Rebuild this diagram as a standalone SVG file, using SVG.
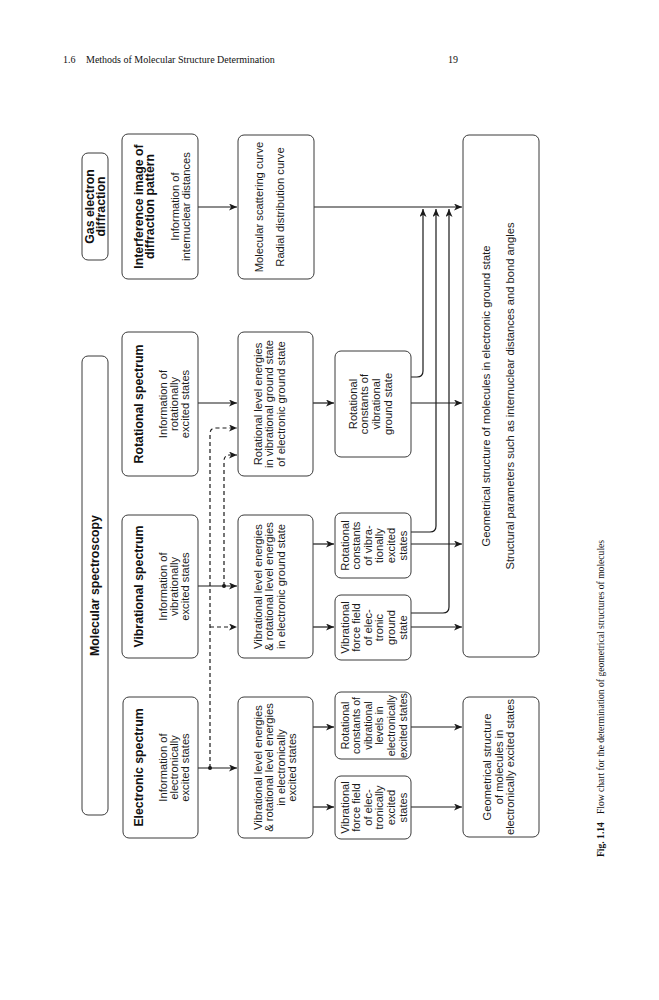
<svg xmlns="http://www.w3.org/2000/svg" width="659" height="1000" viewBox="0 0 659 1000">
<style>
.box{fill:#fff;stroke:#3a3a3a;stroke-width:1}
.t{font-family:"Liberation Sans",Arial,sans-serif;font-size:11.2px;fill:#1a1a1a;text-anchor:middle}
.sm{font-size:10.6px}
.b{font-family:"Liberation Sans",Arial,sans-serif;font-size:12.3px;font-weight:bold;fill:#111;text-anchor:middle}
.s{font-family:"Liberation Serif","Times New Roman",serif;font-size:10px;fill:#111}
.ln{fill:none;stroke:#1a1a1a;stroke-width:1.2}
.ds{fill:none;stroke:#1a1a1a;stroke-width:1.2;stroke-dasharray:4 3}
</style>
<defs>
<marker id="ah" markerUnits="userSpaceOnUse" markerWidth="9" markerHeight="7" refX="8" refY="3.5" orient="auto">
<path d="M0,0 L8,3.5 L0,7 L2.2,3.5 z" fill="#1a1a1a"/>
</marker>
</defs>
<rect width="659" height="1000" fill="#fff"/>
<g id="header">
<text class="s" x="63" y="62.5">1.6</text>
<text class="s" x="86" y="62.5">Methods of Molecular Structure Determination</text>
<text class="s" x="448" y="62.5">19</text>
</g>
<g id="connectors">
<path class="ln" d="M198,207 H237" marker-end="url(#ah)"/>
<path class="ln" d="M314,207 H462" marker-end="url(#ah)"/>
<path class="ln" d="M411,377 H417 Q423,377 423,371 V209" marker-end="url(#ah)"/>
<path class="ln" d="M411,532 H430 Q436,532 436,526 V209" marker-end="url(#ah)"/>
<path class="ln" d="M411,613 H443 Q449,613 449,607 V209" marker-end="url(#ah)"/>
<path class="ln" d="M198,403 H237" marker-end="url(#ah)"/>
<path class="ln" d="M313,403 H334" marker-end="url(#ah)"/>
<path class="ln" d="M411,403 H462" marker-end="url(#ah)"/>
<path class="ln" d="M198,586 H237" marker-end="url(#ah)"/>
<path class="ds" d="M224,586 V461 Q224,455 230,455 H237" marker-end="url(#ah)"/>
<path class="ds" d="M210,768 V434 Q210,428 216,428 H237" marker-end="url(#ah)"/>
<path class="ds" d="M210,627 H237" marker-end="url(#ah)"/>
<circle cx="224" cy="586" r="2" fill="#1a1a1a"/>
<circle cx="210" cy="768" r="2" fill="#1a1a1a"/>
<path class="ln" d="M313,544 H334" marker-end="url(#ah)"/>
<path class="ln" d="M313,627 H334" marker-end="url(#ah)"/>
<path class="ln" d="M411,544 H462" marker-end="url(#ah)"/>
<path class="ln" d="M411,627 H462" marker-end="url(#ah)"/>
<path class="ln" d="M198,768 H237" marker-end="url(#ah)"/>
<path class="ln" d="M313,727 H334" marker-end="url(#ah)"/>
<path class="ln" d="M313,807 H334" marker-end="url(#ah)"/>
<path class="ln" d="M411,727 H462" marker-end="url(#ah)"/>
<path class="ln" d="M411,807 H462" marker-end="url(#ah)"/>
</g>
<g id="gas">
<rect class="box" x="82" y="153" width="26" height="107" rx="6"/>
<text class="b" transform="translate(93.5,206.5) rotate(-90)">Gas electron</text>
<text class="b" transform="translate(105.3,206.5) rotate(-90)">diffraction</text>
</g>
<g id="molspec">
<rect class="box" x="82" y="356" width="26" height="459" rx="6"/>
<text class="b" transform="translate(98.5,585.5) rotate(-90)">Molecular spectroscopy</text>
</g>
<g id="interference">
<rect class="box" x="122" y="134" width="76" height="145" rx="6"/>
<text class="b" transform="translate(142.7,206.5) rotate(-90)">Interference image of</text>
<text class="b" transform="translate(154,206.5) rotate(-90)">diffraction pattern</text>
<text class="t" transform="translate(179,206.5) rotate(-90)">Information of</text>
<text class="t" transform="translate(190,206.5) rotate(-90)">internuclear distances</text>
</g>
<g id="rotspec">
<rect class="box" x="122" y="332" width="76" height="144" rx="6"/>
<text class="b" transform="translate(142.7,404) rotate(-90)">Rotational spectrum</text>
<text class="t" transform="translate(167,404) rotate(-90)">Information of</text>
<text class="t" transform="translate(178,404) rotate(-90)">rotationally</text>
<text class="t" transform="translate(189,404) rotate(-90)">excited states</text>
</g>
<g id="vibspec">
<rect class="box" x="122" y="515" width="76" height="143" rx="6"/>
<text class="b" transform="translate(142.7,586.5) rotate(-90)">Vibrational spectrum</text>
<text class="t" transform="translate(167,586.5) rotate(-90)">Information of</text>
<text class="t" transform="translate(178,586.5) rotate(-90)">vibrationally</text>
<text class="t" transform="translate(189,586.5) rotate(-90)">excited states</text>
</g>
<g id="elecspec">
<rect class="box" x="123" y="697" width="75" height="141" rx="6"/>
<text class="b" transform="translate(142.7,767.5) rotate(-90)">Electronic spectrum</text>
<text class="t" transform="translate(167,767.5) rotate(-90)">Information of</text>
<text class="t" transform="translate(178,767.5) rotate(-90)">electronically</text>
<text class="t" transform="translate(189,767.5) rotate(-90)">excited states</text>
</g>
<g id="molscatter">
<rect class="box" x="238" y="135" width="76" height="144" rx="6"/>
<text class="t" transform="translate(263,207) rotate(-90)">Molecular scattering curve</text>
<text class="t" transform="translate(284,207) rotate(-90)">Radial distribution curve</text>
</g>
<g id="rotlevel">
<rect class="box" x="238" y="332" width="75" height="144" rx="6"/>
<text class="t" transform="translate(261.5,404) rotate(-90)">Rotational level energies</text>
<text class="t" transform="translate(273,404) rotate(-90)">in vibrational ground state</text>
<text class="t" transform="translate(284.5,404) rotate(-90)">of electronic ground state</text>
</g>
<g id="viblevel">
<rect class="box" x="238" y="515" width="75" height="143" rx="6"/>
<text class="t" transform="translate(261.5,586.5) rotate(-90)">Vibrational level energies</text>
<text class="t" transform="translate(273,586.5) rotate(-90)">&amp; rotational level energies</text>
<text class="t" transform="translate(284.5,586.5) rotate(-90)">in electronic ground state</text>
</g>
<g id="viblevelexc">
<rect class="box" x="238" y="697" width="75" height="141" rx="6"/>
<text class="t" transform="translate(261.5,767.5) rotate(-90)">Vibrational level energies</text>
<text class="t" transform="translate(273,767.5) rotate(-90)">&amp; rotational level energies</text>
<text class="t" transform="translate(284.5,767.5) rotate(-90)">in electronically</text>
<text class="t" transform="translate(296,767.5) rotate(-90)">excited states</text>
</g>
<g id="rotconstground">
<rect class="box" x="335" y="351" width="76" height="106" rx="6"/>
<text class="t" transform="translate(356.5,404) rotate(-90)">Rotational</text>
<text class="t" transform="translate(368.2,404) rotate(-90)">constants of</text>
<text class="t" transform="translate(379.9,404) rotate(-90)">vibrational</text>
<text class="t" transform="translate(391.6,404) rotate(-90)">ground state</text>
</g>
<g id="rotconstvibexc">
<rect class="box" x="335" y="513" width="76" height="65" rx="6"/>
<text class="t" transform="translate(348.5,545.5) rotate(-90)">Rotational</text>
<text class="t" transform="translate(360.1,545.5) rotate(-90)">constants</text>
<text class="t" transform="translate(371.7,545.5) rotate(-90)">of vibra-</text>
<text class="t" transform="translate(383.3,545.5) rotate(-90)">tionally</text>
<text class="t" transform="translate(394.9,545.5) rotate(-90)">excited</text>
<text class="t" transform="translate(406.5,545.5) rotate(-90)">states</text>
</g>
<g id="vibffground">
<rect class="box" x="335" y="595" width="76" height="65" rx="6"/>
<text class="t" transform="translate(348.5,627.5) rotate(-90)">Vibrational</text>
<text class="t" transform="translate(360.1,627.5) rotate(-90)">force field</text>
<text class="t" transform="translate(371.7,627.5) rotate(-90)">of elec-</text>
<text class="t" transform="translate(383.3,627.5) rotate(-90)">tronic</text>
<text class="t" transform="translate(394.9,627.5) rotate(-90)">ground</text>
<text class="t" transform="translate(406.5,627.5) rotate(-90)">state</text>
</g>
<g id="rotconstelexc">
<rect class="box" x="335" y="692" width="76" height="67" rx="6"/>
<text class="t sm" transform="translate(348.5,725.5) rotate(-90)">Rotational</text>
<text class="t sm" transform="translate(360.1,725.5) rotate(-90)">constants of</text>
<text class="t sm" transform="translate(371.7,725.5) rotate(-90)">vibrational</text>
<text class="t sm" transform="translate(383.3,725.5) rotate(-90)">levels in</text>
<text class="t sm" transform="translate(394.9,725.5) rotate(-90)">electronically</text>
<text class="t sm" transform="translate(406.5,725.5) rotate(-90)">excited states</text>
</g>
<g id="vibffelexc">
<rect class="box" x="335" y="776" width="76" height="63" rx="6"/>
<text class="t" transform="translate(348.5,807.5) rotate(-90)">Vibrational</text>
<text class="t" transform="translate(360.1,807.5) rotate(-90)">force field</text>
<text class="t" transform="translate(371.7,807.5) rotate(-90)">of elec-</text>
<text class="t" transform="translate(383.3,807.5) rotate(-90)">tronically</text>
<text class="t" transform="translate(394.9,807.5) rotate(-90)">excited</text>
<text class="t" transform="translate(406.5,807.5) rotate(-90)">states</text>
</g>
<g id="geomground">
<rect class="box" x="463" y="135" width="76" height="522" rx="6"/>
<text class="t" transform="translate(489.5,396) rotate(-90)">Geometrical structure of molecules in electronic ground state</text>
<text class="t" transform="translate(514,396) rotate(-90)">Structural parameters such as internuclear distances and bond angles</text>
</g>
<g id="geomexc">
<rect class="box" x="463" y="697" width="76" height="140" rx="6"/>
<text class="t" transform="translate(491,767) rotate(-90)">Geometrical structure</text>
<text class="t" transform="translate(502.5,767) rotate(-90)">of molecules in</text>
<text class="t" transform="translate(514,767) rotate(-90)">electronically excited states</text>
</g>
<g id="caption">
<text class="s" style="font-size:9.6px" transform="translate(604,857) rotate(-90)"><tspan font-weight="bold">Fig. 1.14</tspan><tspan dx="8">Flow chart for the determination of geometrical structures of molecules</tspan></text>
</g>
</svg>
